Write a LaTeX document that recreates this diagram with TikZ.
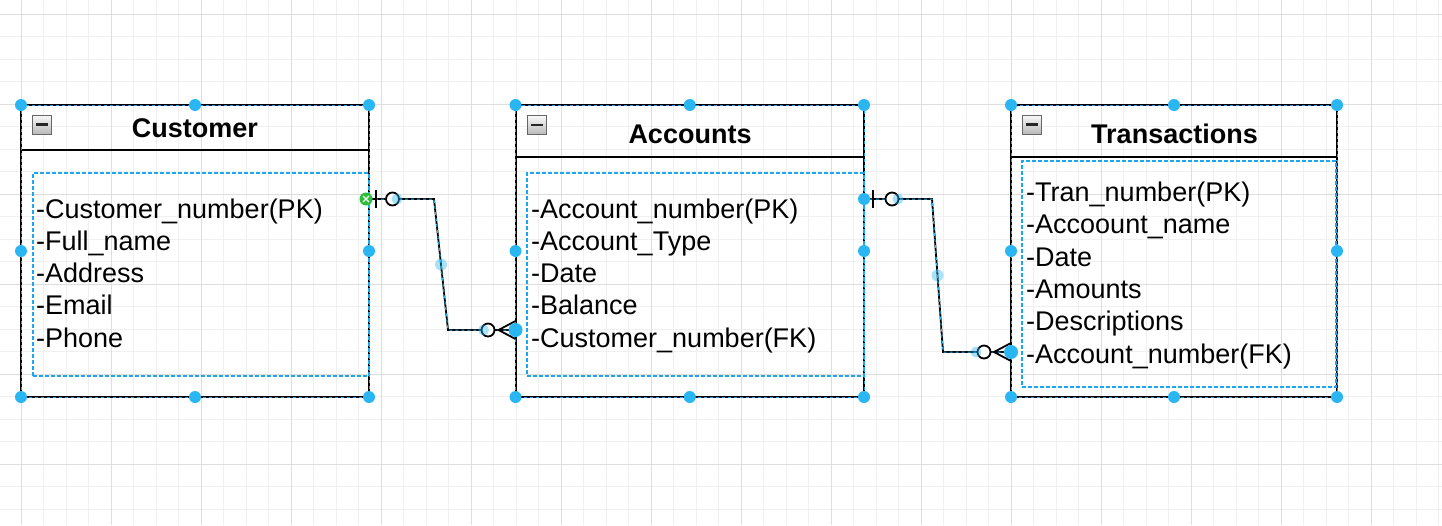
\documentclass[tikz,border=0pt]{standalone}
\usepackage{fontspec}
\setmainfont{Liberation Sans}
\usetikzlibrary{calc}
\definecolor{hblue}{HTML}{29B6F2}
\definecolor{selblue}{HTML}{1E9FE8}
\definecolor{dashblue}{HTML}{1AA7F0}
\definecolor{hgreen}{HTML}{2EBD3A}
\begin{document}
\begin{tikzpicture}[x=1pt,y=-1pt,
  grida/.style={draw=gray!12, line width=1pt},
  gridb/.style={draw=gray!26, line width=1pt},
  box/.style={draw=black, line width=2pt, inner sep=0pt, outer sep=0pt, anchor=north west},
  selbox/.style={draw=selblue, line width=1pt, dash pattern=on 3pt off 3pt},
  sepline/.style={draw=black, line width=2pt},
  bodybox/.style={draw=dashblue, line width=1.2pt, dash pattern=on 4pt off 2pt, inner sep=0pt, outer sep=0pt, anchor=north west},
  attr/.style={anchor=base west, inner sep=0pt, font=\fontsize{27}{32}\selectfont},
  ttl/.style={anchor=base, inner sep=0pt, font=\bfseries\fontsize{27}{32}\selectfont},
  icon/.style={minimum size=19pt, inner sep=0pt, outer sep=0pt, draw=gray!80!black, line width=1pt,
    top color=gray!5, bottom color=gray!55,
    path picture={\fill[black!85] ($(path picture bounding box.center)+(-6,-1.4)$) rectangle ($(path picture bounding box.center)+(6,1.4)$);}},
  rel/.style={draw=black, line width=1.8pt},
  relsel/.style={draw=hblue, line width=1pt, dash pattern=on 3pt off 3pt},
  handle/.style={fill=hblue},
  ghost/.style={fill=hblue, opacity=0.4}]
\useasboundingbox (0,0) rectangle (1442,525);
\fill[white] (0,0) rectangle (1442,525);
% grid
\foreach \k in {-1,...,63} {\pgfmathsetmacro\xx{21+22.5*\k} \draw[grida] (\xx,0) -- (\xx,525);}
\foreach \k in {-1,...,23} {\pgfmathsetmacro\yy{14+22.5*\k} \draw[grida] (0,\yy) -- (1442,\yy);}
\foreach \k in {0,...,15} {\pgfmathsetmacro\xx{21+90*\k} \draw[gridb] (\xx,0) -- (\xx,525);}
\foreach \k in {0,...,5} {\pgfmathsetmacro\yy{14+90*\k} \draw[gridb] (0,\yy) -- (1442,\yy);}

% boxes
\node[box, minimum width=348pt, minimum height=292pt] (cust) at (21,105) {};
\node[box, minimum width=348.5pt, minimum height=292pt] (acc) at (515.5,105) {};
\node[box, minimum width=326pt, minimum height=292pt] (tran) at (1011,105) {};
\draw[sepline] ($(cust.north west)+(0,45)$) -- ($(cust.north east)+(0,45)$);
\draw[sepline] ($(acc.north west)+(0,51.5)$) -- ($(acc.north east)+(0,51.5)$);
\draw[sepline] ($(tran.north west)+(0,51.5)$) -- ($(tran.north east)+(0,51.5)$);
\draw[selbox] (cust.north west) rectangle (cust.south east);
\draw[selbox] (acc.north west) rectangle (acc.south east);
\draw[selbox] (tran.north west) rectangle (tran.south east);

% body selection boxes
\node[bodybox, minimum width=336pt, minimum height=203pt] (custbody) at (33,173) {};
\node[bodybox, minimum width=337pt, minimum height=203pt] (accbody) at (527,173) {};
\node[bodybox, minimum width=314pt, minimum height=226pt] (tranbody) at (1022,161) {};

% icons
\node[icon] (custicon) at (41.5,124.5) {};
\node[icon] (accicon) at (537,125) {};
\node[icon] (tranicon) at (1032,124.5) {};

% titles
\node[ttl] (custtitle) at (195,137) {Customer};
\node[ttl] (acctitle) at (690,143) {Accounts};
\node[ttl] (trantitle) at (1174.5,143) {Transactions};

% attributes
\node[attr] (c1) at (36,218) {-Customer\_number(PK)};
\node[attr] (c2) at (36,250.3) {-Full\_name};
\node[attr] (c3) at (36,282.6) {-Address};
\node[attr] (c4) at (36,314.9) {-Email};
\node[attr] (c5) at (36,347.2) {-Phone};

\node[attr] (a1) at (531,218) {-Account\_number(PK)};
\node[attr] (a2) at (531,250.3) {-Account\_Type};
\node[attr] (a3) at (531,282.6) {-Date};
\node[attr] (a4) at (531,314.9) {-Balance};
\node[attr] (a5) at (531,347.2) {-Customer\_number(FK)};

\node[attr] (t1) at (1026,201.5) {-Tran\_number(PK)};
\node[attr] (t2) at (1026,233.8) {-Accoount\_name};
\node[attr] (t3) at (1026,266.1) {-Date};
\node[attr] (t4) at (1026,298.4) {-Amounts};
\node[attr] (t5) at (1026,330.7) {-Descriptions};
\node[attr] (t6) at (1026,363) {-Account\_number(FK)};

% connector 1: Customer -> Accounts
\coordinate (r1s) at ($(cust.north east)+(0,94)$);
\coordinate (r1e) at ($(acc.north west)+(0,225)$);
\coordinate (r1b) at ($(r1s)+(65,0)$);
\coordinate (r1c) at ($(r1e)+(-67.5,0)$);
\draw[rel] (r1s) -- (r1b) -- (r1c) -- (r1e);
\draw[relsel] (r1s) -- (r1b) -- (r1c) -- (r1e);
\draw[rel] ($(r1s)+(7,-9)$) -- ($(r1s)+(7,9)$);
\draw[rel, fill=white] ($(r1s)+(23.5,0)$) circle (6.5pt);
\draw[rel] ($(r1e)+(0,-9)$) -- ($(r1e)+(-17,0)$) -- ($(r1e)+(0,9)$);
\draw[rel, fill=white] ($(r1e)+(-27.5,0)$) circle (6.5pt);

% connector 2: Accounts -> Transactions
\coordinate (r2s) at ($(acc.north east)+(0,94)$);
\coordinate (r2e) at ($(tran.north west)+(0,247)$);
\coordinate (r2b) at ($(r2s)+(68,0)$);
\coordinate (r2c) at ($(r2e)+(-68,0)$);
\draw[rel] (r2s) -- (r2b) -- (r2c) -- (r2e);
\draw[relsel] (r2s) -- (r2b) -- (r2c) -- (r2e);
\draw[rel] ($(r2s)+(9,-9)$) -- ($(r2s)+(9,9)$);
\draw[rel, fill=white] ($(r2s)+(28,0)$) circle (6.5pt);
\draw[rel] ($(r2e)+(0,-9)$) -- ($(r2e)+(-17,0)$) -- ($(r2e)+(0,9)$);
\draw[rel, fill=white] ($(r2e)+(-27,0)$) circle (6.5pt);

% handles of boxes
\foreach \n in {cust,acc,tran} {
  \foreach \a in {north west,north,north east,west,east,south west,south,south east}
    \fill[handle] (\n.\a) circle (6pt);
}
% edge handles
\fill[ghost] ($(r1s)+(28,0)$) circle (5.5pt);
\fill[ghost] ($(r1b)!0.5!(r1c)$) circle (6pt);
\fill[ghost] ($(r1e)+(-32,0)$) circle (5.5pt);
\fill[handle] (r1e) circle (7pt);
\fill[hgreen] ($(r1s)+(-3,0)$) circle (6.5pt);
\draw[white, line width=1.3pt] ($(r1s)+(-6,-3)$) -- ($(r1s)+(0,3)$) ($(r1s)+(-6,3)$) -- ($(r1s)+(0,-3)$);

\fill[ghost] ($(r2s)+(34,0)$) circle (5.5pt);
\fill[ghost] ($(r2b)!0.5!(r2c)$) circle (6pt);
\fill[ghost] ($(r2e)+(-35,0)$) circle (5.5pt);
\fill[handle] (r2s) circle (6pt);
\fill[handle] (r2e) circle (7pt);
\end{tikzpicture}
\end{document}
